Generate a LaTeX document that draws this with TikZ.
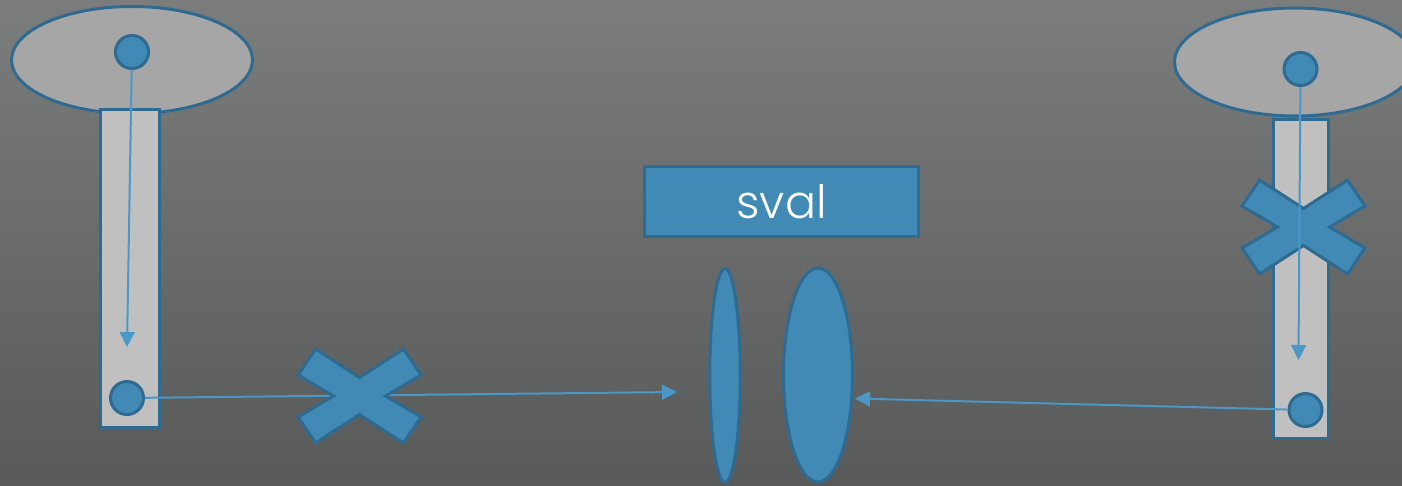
\documentclass[tikz,border=0pt]{standalone}
\usepackage{fontspec}
\newfontfamily\svalfont{Poppins}[UprightFont=* Light]
\usetikzlibrary{shapes.geometric,arrows.meta}
\definecolor{bgtop}{HTML}{7B7D7D}
\definecolor{bgbot}{HTML}{585A5A}
\definecolor{edge}{HTML}{2F6B90}
\definecolor{bluefill}{HTML}{418AB5}
\definecolor{conn}{HTML}{4A97C8}
\definecolor{headgray}{HTML}{A6A6A6}
\definecolor{stemgray}{HTML}{C0C0C0}
\tikzset{
  head/.style={ellipse,draw=edge,line width=3pt,fill=headgray,inner sep=0pt},
  stem/.style={rectangle,draw=edge,line width=3pt,fill=stemgray,inner sep=0pt},
  dot/.style={circle,draw=edge,line width=3pt,fill=bluefill,inner sep=0pt,minimum size=33pt},
  lens/.style={ellipse,draw=edge,line width=3pt,fill=bluefill,inner sep=0pt},
  label box/.style={rectangle,draw=edge,line width=3pt,fill=bluefill,inner sep=0pt,
    minimum width=274pt,minimum height=70pt,text=white,font=\svalfont\fontsize{46}{50}\selectfont},
  conn line/.style={draw=conn,line width=2pt},
  conn arrow/.style={conn line,-{Triangle[length=15pt,width=15pt]}},
  cross/.style={draw=edge,line width=3pt,fill=bluefill,line join=miter}
}
\newcommand{\crossmark}[1]{%
  \path[cross,shift={#1}] (-44,-47) -- (0,-18.5) -- (44,-47) -- (61.5,-21) -- (26,0)
    -- (61.5,21) -- (44,47) -- (0,18.5) -- (-44,47) -- (-61.5,21) -- (-26,0)
    -- (-61.5,-21) -- cycle;}
\begin{document}
\begin{tikzpicture}[x=1pt,y=-1pt]
\useasboundingbox (0,0) rectangle (1402,485);
\shade[top color=bgtop,bottom color=bgbot] (0,0) rectangle (1402,485);
\begin{scope}
\clip (0,0) rectangle (1402,485);
% left assembly
\node[head,minimum width=241pt,minimum height=107pt] (lhead) at (132,60) {};
\node[stem,minimum width=59pt,minimum height=318pt] (lstem) at (130,268.5) {};
\node[dot] (lc1) at (132,52) {};
\node[dot] (lc2) at (127,398) {};
\coordinate (ltip) at (127,347);
\draw[conn arrow] (lc1) -- (ltip);
% centre
\node[label box] (sval) at (781.5,201.5) {sval};
\node[lens,minimum width=30.5pt,minimum height=214pt] (thin) at (725,375.5) {};
\node[lens,minimum width=69pt,minimum height=214pt] (thick) at (818,375) {};
\coordinate (mtip) at (677,392);
\draw[conn arrow] (lc2) -- (mtip);
\coordinate (xa) at (359.5,396);
\crossmark{(xa)}
% right assembly
\node[head,minimum width=241pt,minimum height=108pt] (rhead) at (1295,62) {};
\node[stem,minimum width=55pt,minimum height=319pt] (rstem) at (1301,279) {};
\node[dot] (rc1) at (1300.5,69) {};
\node[dot] (rc2) at (1305.5,410) {};
\coordinate (xb) at (1303.5,227);
\crossmark{(xb)}
\coordinate (rtip) at (1298.5,360);
\draw[conn arrow] (rc1) -- (rtip);
\coordinate (ltip2) at (855,398.5);
\draw[conn arrow] (rc2) -- (ltip2);
\end{scope}
\end{tikzpicture}
\end{document}
